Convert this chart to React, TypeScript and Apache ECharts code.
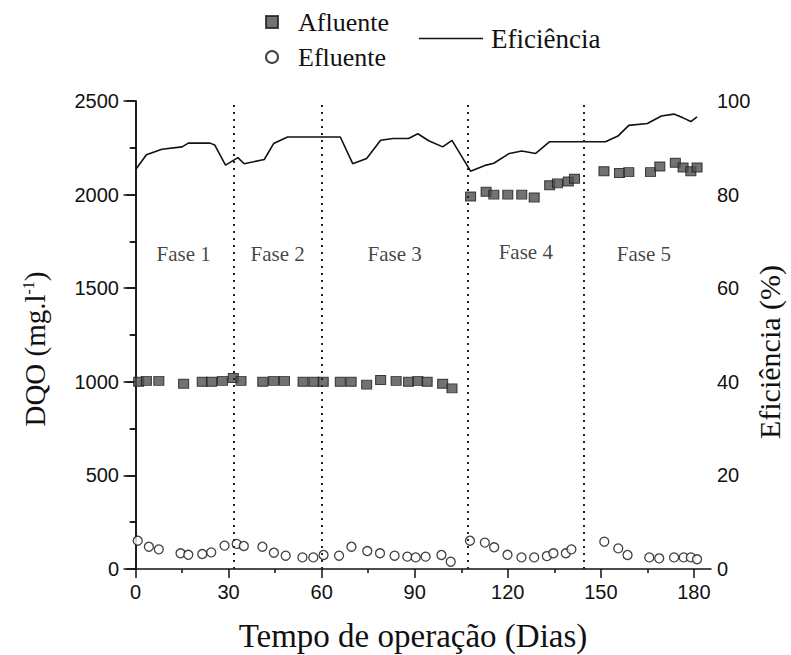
import React, { useEffect, useRef } from "react";
import * as echarts from "echarts";

// Afluente (DQO, mg/l)
const afluenteDias = [1, 3.5, 7.5, 15.5, 21.5, 24.5, 28, 31.5, 34, 41, 44.5, 48, 54, 57.5, 60.5, 66, 69.5, 74.5, 79, 84, 88, 91, 94, 99, 102,
  108, 113, 115.5, 120, 124.5, 128.5, 133.5, 136, 139.5, 141.5,
  151, 156, 159, 166, 169, 174, 176.5, 179, 181];
const afluenteDQO = [1000, 1005, 1005, 990, 1000, 1000, 1005, 1020, 1005, 1000, 1005, 1005, 1000, 1000, 1000, 1000, 1000, 985, 1010, 1005, 1000, 1005, 1000, 990, 965,
  1990, 2015, 2000, 2000, 2000, 1985, 2050, 2060, 2070, 2085,
  2125, 2115, 2120, 2120, 2150, 2170, 2145, 2125, 2145];

// Efluente (DQO, mg/l)
const efluenteDias = [0.7, 4.3, 7.5, 14.5, 17, 21.5, 24.4, 28.7, 32.6, 34.9, 40.9, 44.6, 48.4, 53.8, 57.3, 60.6, 65.6, 69.6, 74.7, 78.8, 83.5, 87.6, 90.3, 93.5, 98.6, 101.6,
  107.8, 112.6, 115.6, 119.9, 124.4, 128.5, 132.6, 134.7, 138.7, 140.5,
  151.1, 155.6, 158.6, 165.6, 168.8, 173.6, 176.7, 179, 181];
const efluenteDQO = [151, 119, 105, 84, 76, 80, 89, 125, 134, 123, 119, 87, 71, 62, 62, 75, 71, 119, 96, 84, 71, 66, 62, 66, 75, 39,
  151, 141, 116, 76, 62, 62, 69, 84, 84, 105,
  146, 110, 75, 62, 57, 62, 62, 62, 52];

// Eficiência (%)
const eficienciaDias = [0, 3.5, 8.5, 15, 17, 24, 25.5, 29, 33, 35, 41.5, 44.5, 49, 66, 70, 74.5, 79, 83, 88, 91, 94.5, 99, 102,
  108, 113, 115.5, 120.5, 124.5, 129, 133.5, 151.5, 155.5, 159, 165, 169.5, 173.5, 176.5, 179, 181];
const eficienciaVals = [85.3, 88.5, 89.7, 90.2, 91, 91, 90.6, 86.3, 87.9, 86.6, 87.5, 90.9, 92.3, 92.3, 86.6, 87.7, 91.6, 92, 92, 93, 91.5, 90.2, 91.6,
  85, 86.3, 86.7, 88.8, 89.3, 88.8, 91.3, 91.3, 92.5, 94.8, 95.2, 96.8, 97.2, 96.4, 95.6, 96.6];

// Phases
const faseLimites = [31.5, 60, 107, 144.5];
const faseNomes = ["Fase 1", "Fase 2", "Fase 3", "Fase 4", "Fase 5"];
const faseX = [15.5, 45.8, 83.5, 125.8, 163.9];
const faseY = [1683, 1683, 1683, 1695, 1683];

// Axis ticks
const xMajorTicks = [0, 30, 60, 90, 120, 150, 180];
const xMinorTicks = [15, 45, 75, 105, 135, 165];

const SERIF = "Liberation Serif";
const SANS = "Liberation Sans";

export default function App() {
  const ref = useRef<HTMLDivElement>(null);
  useEffect(() => {
    if (!ref.current) return;
    const chart = echarts.init(ref.current, undefined, { renderer: "svg" });
    const axisColor = "#111";
    const plain = (v: number) => String(v);
    const option: any = {
      animation: false,
      backgroundColor: "#fff",
      grid: { left: 134, right: 80, top: 101, bottom: 86, outerBoundsMode: "none" },
      legend: [
        {
          data: ["Afluente"], left: 260, top: 4, itemWidth: 12, itemHeight: 12, icon: "rect",
          textStyle: { fontFamily: SERIF, fontSize: 26, color: "#111", padding: [0, 0, 0, 15] },
        },
        {
          data: ["Efluente"], left: 260, top: 39, itemWidth: 12, itemHeight: 12,
          textStyle: { fontFamily: SERIF, fontSize: 26, color: "#111", padding: [0, 0, 0, 15] },
        },
        {
          data: [{ name: "Eficiência", icon: "rect" }], left: 414, top: 20, itemWidth: 64, itemHeight: 1.6,
          itemStyle: { color: "#111" },
          textStyle: { fontFamily: SERIF, fontSize: 27, color: "#111", padding: [0, 0, 0, 3] },
        },
      ],
      xAxis: [
        {
          type: "value", min: -0.5, max: 185.5, position: "bottom",
          axisLine: { show: true, lineStyle: { color: axisColor, width: 1.5 } },
          axisTick: { show: true, customValues: xMajorTicks, length: 9, lineStyle: { color: axisColor, width: 1.5 } },
          axisLabel: { customValues: xMajorTicks, margin: 13, fontFamily: SANS, fontSize: 20, color: "#111", formatter: plain },
          splitLine: { show: false },
        },
        {
          type: "value", min: -0.5, max: 185.5, position: "bottom",
          axisLine: { show: false },
          axisTick: { show: true, customValues: xMinorTicks, length: 4, lineStyle: { color: axisColor, width: 1.5 } },
          axisLabel: { show: false },
          splitLine: { show: false },
        },
      ],
      yAxis: [
        {
          type: "value", min: 0, max: 2500, interval: 500, position: "left",
          axisLine: { show: true, lineStyle: { color: axisColor, width: 1.5 } },
          axisTick: { show: true, length: 9, lineStyle: { color: axisColor, width: 1.5 } },
          minorTick: { show: true, splitNumber: 2, length: 5, lineStyle: { color: axisColor, width: 1.5 } },
          axisLabel: { margin: 15, fontFamily: SANS, fontSize: 20, color: "#111", formatter: plain },
          splitLine: { show: false },
        },
        {
          type: "value", min: 0, max: 100, interval: 20, position: "right",
          axisLine: { show: true, lineStyle: { color: axisColor, width: 1.5 } },
          axisTick: { show: true, inside: true, length: 12, lineStyle: { color: axisColor, width: 1.5 } },
          minorTick: { show: true, splitNumber: 2, length: 6, lineStyle: { color: axisColor, width: 1.5 } },
          axisLabel: { margin: 6, fontFamily: SANS, fontSize: 20, color: "#111", formatter: plain },
          splitLine: { show: false },
        },
      ],
      series: [
        {
          name: "Afluente", type: "scatter", xAxisIndex: 0, yAxisIndex: 0,
          symbol: "rect", symbolSize: [10, 9],
          itemStyle: { color: "#4f4f4f", borderColor: "#1a1a1a", borderWidth: 1 },
          data: afluenteDias.map((d, i) => [d, afluenteDQO[i]]),
          markLine: {
            silent: true, symbol: ["none", "none"], label: { show: false },
            lineStyle: { type: [2, 5], color: "#222", width: 2 },
            data: faseLimites.map((v) => ({ xAxis: v })),
          },
          z: 3,
        },
        {
          name: "Efluente", type: "scatter", xAxisIndex: 0, yAxisIndex: 0,
          symbol: "circle", symbolSize: 9,
          itemStyle: { color: "#fff", borderColor: "#111", borderWidth: 1.3 },
          data: efluenteDias.map((d, i) => [d, efluenteDQO[i]]),
          z: 3,
        },
        {
          name: "Eficiência", type: "line", xAxisIndex: 0, yAxisIndex: 1,
          symbol: "none", showSymbol: false,
          lineStyle: { color: "#111", width: 1.6 },
          itemStyle: { color: "#111" },
          data: eficienciaDias.map((d, i) => [d, eficienciaVals[i]]),
          z: 2,
        },
        {
          name: "Fases", type: "scatter", xAxisIndex: 0, yAxisIndex: 0,
          symbolSize: 0, silent: true,
          label: {
            show: true, position: "inside", fontFamily: SERIF, fontSize: 21, color: "#111",
            formatter: (p: any) => p.name,
          },
          data: faseNomes.map((n, i) => ({ name: n, value: [faseX[i], faseY[i]] })),
        },
      ],
      graphic: [
        {
          type: "text", x: 413, y: 636,
          style: { text: "Tempo de operação (Dias)", fontFamily: SERIF, fontSize: 33, fill: "#111", textAlign: "center", textVerticalAlign: "middle" },
        },
        {
          type: "text", x: 35, y: 349, rotation: Math.PI / 2,
          style: {
            text: "{a|DQO (mg.l}{s|-1}{a|)}", textAlign: "center", textVerticalAlign: "middle", fill: "#111",
            rich: {
              a: { fontFamily: SERIF, fontSize: 29, fill: "#111", lineHeight: 30 },
              s: { fontFamily: SERIF, fontSize: 16, fill: "#111", verticalAlign: "top", lineHeight: 30 },
            },
          },
        },
        {
          type: "text", x: 769, y: 352, rotation: Math.PI / 2,
          style: { text: "Eficiência (%)", fontFamily: SERIF, fontSize: 30, fill: "#111", textAlign: "center", textVerticalAlign: "middle" },
        },
      ],
    };
    chart.setOption(option);
    return () => chart.dispose();
  }, []);
  return <div ref={ref} style={{ width: 791, height: 655, position: "absolute", left: 0, top: 0 }} />;
}
